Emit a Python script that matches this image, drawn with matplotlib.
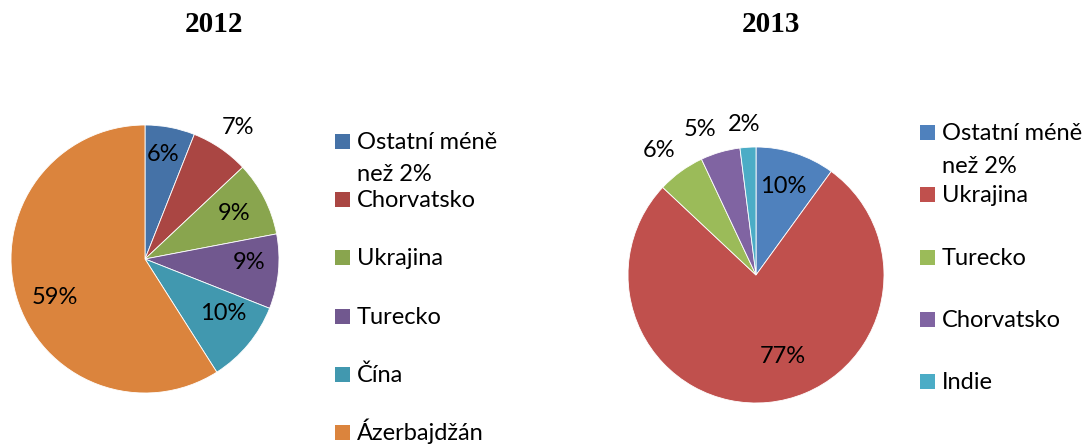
import numpy as np
import matplotlib.pyplot as plt
from matplotlib.patches import Rectangle

# ---------- data ----------
labels_2012 = ["Ostatní méně\nnež 2%", "Chorvatsko", "Ukrajina", "Turecko", "Čína", "Ázerbajdžán"]
values_2012 = [6, 7, 9, 9, 10, 59]
colors_2012 = ["#4572A7", "#AA4643", "#89A54E", "#71588F", "#4198AF", "#DB843D"]
# label placement: distance from centre (in radii) and angle nudge (deg)
label_r_2012 = [0.79, 1.2, 0.75, 0.78, 0.71, 0.73]
label_da_2012 = [1, -1, 0, 3.4, 4.6, 6.7]

labels_2013 = ["Ostatní méně\nnež 2%", "Ukrajina", "Turecko", "Chorvatsko", "Indie"]
values_2013 = [10, 77, 6, 5, 2]
colors_2013 = ["#4F81BD", "#C0504D", "#9BBB59", "#8064A2", "#4BACC6"]
label_r_2013 = [0.72, 0.67, 1.23, 1.22, 1.18]
label_da_2013 = [1, 12.6, 2, 4.8, 1]

W, H = 1089, 445
FONT = "Lato"
FS = 17

fig = plt.figure(figsize=(W / 100, H / 100), dpi=100)


def px_axes(cx, cy, r):
    # axes box (figure fraction) so that the pie has centre (cx, cy) and radius r in pixels
    return [(cx - r) / W, 1 - (cy + r) / H, 2 * r / W, 2 * r / H]


def draw_pie(cx, cy, r, values, colors, label_r, label_da, title, title_x):
    ax = fig.add_axes(px_axes(cx, cy, r))
    wedges, _ = ax.pie(values, colors=colors, startangle=90, counterclock=False,
                       radius=1, wedgeprops=dict(edgecolor="white", linewidth=0.6))
    for w, v, d, da in zip(wedges, values, label_r, label_da):
        mid = np.deg2rad((w.theta1 + w.theta2) / 2 + da)
        ax.text(d * np.cos(mid), d * np.sin(mid), f"{v}%", ha="center", va="center",
                fontsize=FS, family=FONT, color="black")
    ax.set_xlim(-1, 1)
    ax.set_ylim(-1, 1)
    ax.set_aspect("equal")
    ax.axis("off")
    fig.text(title_x / W, 1 - 25 / H, title, ha="center", va="center",
             fontsize=21, fontweight="bold", family="Liberation Serif")
    return ax


def draw_legend(labels, colors, mx, tx, y0, step, line_gap, size=15):
    for i, (lab, col) in enumerate(zip(labels, colors)):
        base = y0 + i * step
        fig.patches.append(Rectangle((mx / W, 1 - base / H), size / W, size / H,
                                     transform=fig.transFigure, facecolor=col,
                                     edgecolor="none", clip_on=False))
        for j, line in enumerate(lab.split("\n")):
            fig.text(tx / W, 1 - (base + j * line_gap) / H, line, ha="left", va="baseline",
                     fontsize=FS, family=FONT, color="black")


draw_pie(145, 259, 134, values_2012, colors_2012, label_r_2012, label_da_2012, "2012", 214)
draw_legend(labels_2012, colors_2012, 335, 357, 149, 58.2, 32)

draw_pie(756, 275, 128, values_2013, colors_2013, label_r_2013, label_da_2013, "2013", 771)
draw_legend(labels_2013, colors_2013, 920, 942, 140, 62.3, 33)

fig.savefig("out.png", dpi=100, facecolor="white")
